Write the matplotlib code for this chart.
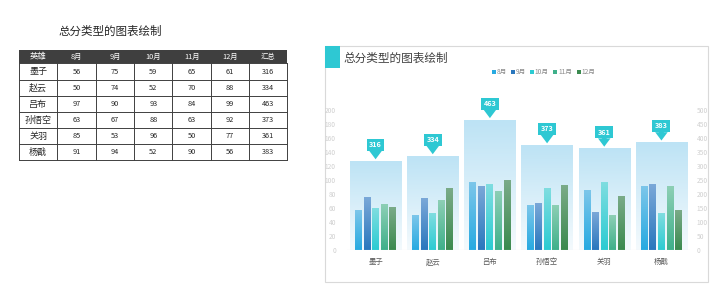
import numpy as np
import matplotlib
matplotlib.use("Agg")
import matplotlib.pyplot as plt
from matplotlib.patches import Rectangle
from matplotlib.colors import to_rgb

plt.rcParams['font.family'] = ['Noto Sans CJK SC', 'DejaVu Sans']

heroes = ["墨子", "赵云", "吕布", "孙悟空", "关羽", "杨戬"]
months = ["8月", "9月", "10月", "11月", "12月"]
aug = [56, 50, 97, 63, 85, 91]
sep = [75, 74, 90, 67, 53, 94]
octo = [59, 52, 93, 88, 96, 52]
nov = [65, 70, 84, 63, 50, 90]
dec = [61, 88, 99, 92, 77, 56]
totals = [316, 334, 463, 373, 361, 383]
header = ["英雄", "8月", "9月", "10月", "11月", "12月", "汇总"]
left_ticks = list(range(0, 201, 20))
right_ticks = list(range(0, 501, 50))
title = "总分类型的图表绘制"

series = [aug, sep, octo, nov, dec]
top_cols = ["#7cc6ea", "#7aa8d8", "#7fdde0", "#8dcfb5", "#7aab88"]
bot_cols = ["#27aae1", "#2a77bd", "#2ccbd2", "#3fb08a", "#3b8a4f"]
teal = "#2ec8d3"

W, H = 720, 286
fig = plt.figure(figsize=(W / 100, H / 100), dpi=100)
fig.patch.set_facecolor("white")

def fx(px):
    return px / W

def fy(py):
    return 1 - py / H

# ---------------- Table ----------------
tax = fig.add_axes([0, 0, 1, 1])
tax.set_xlim(0, W)
tax.set_ylim(H, 0)
tax.axis("off")

tax.text(110, 31, title, ha="center", va="center", fontsize=8.3, color="#262626")

col_x = [19, 57.3, 96, 134.3, 172.3, 211, 249, 287.3]
row_y = [50, 63.3, 80, 96, 112.3, 128.3, 144.3, 160.3]
tax.add_patch(Rectangle((col_x[0], row_y[0]), col_x[-1] - col_x[0], row_y[1] - row_y[0],
                        facecolor="#3f3f3f", edgecolor="none"))
for j, h in enumerate(header):
    cx = (col_x[j] + col_x[j + 1]) / 2
    tax.text(cx, (row_y[0] + row_y[1]) / 2, h, ha="center", va="center",
             fontsize=5.3 if j else 6.0, color="white")
table_rows = []
for i in range(len(heroes)):
    table_rows.append([heroes[i]] + [s[i] for s in series] + [totals[i]])
for i, r in enumerate(table_rows):
    cy = (row_y[i + 1] + row_y[i + 2]) / 2
    for j, v in enumerate(r):
        cx = (col_x[j] + col_x[j + 1]) / 2
        tax.text(cx, cy, str(v), ha="center", va="center",
                 fontsize=6.5 if j == 0 else 5.3, color="#262626")
for y in row_y[1:]:
    tax.plot([col_x[0], col_x[-1]], [y, y], color="#404040", lw=0.7)
for x in col_x:
    tax.plot([x, x], [row_y[1], row_y[-1]], color="#404040", lw=0.7)

# ---------------- Chart panel ----------------
tax.add_patch(Rectangle((325, 45.5), 383, 236.5, facecolor="white", edgecolor="#d9d9d9", lw=0.8))
tax.add_patch(Rectangle((325, 45.5), 15, 22.5, facecolor=teal, edgecolor="none"))
tax.text(343, 58, title, ha="left", va="center", fontsize=8.4, color="#404040")

# legend
lx = 491.5
for k, m in enumerate(months):
    tax.add_patch(Rectangle((lx, 69.5), 4, 4, facecolor=bot_cols[k], edgecolor="none"))
    tax.text(lx + 5, 71.5, m, ha="left", va="center", fontsize=4.8, color="#8c8c8c")
    lx += 10 + 4.5 * len(m)

# axes
rect = [fx(347), fy(250), fx(690) - fx(347), fy(110) - fy(250)]
ax_t = fig.add_axes(rect)
ax_m = fig.add_axes(rect)
ax_t.set_zorder(1)
ax_m.set_zorder(2)
ax_m.patch.set_visible(False)
ax_t.patch.set_visible(False)

x = np.arange(len(heroes))

def grad_fill(ax, patches, c_top, c_bot, z):
    ct = np.array(to_rgb(c_top))
    cb = np.array(to_rgb(c_bot))
    t = np.linspace(0, 1, 64)[:, None]
    img = (ct * (1 - t) + cb * t)[:, None, :]
    for p in patches:
        x0, y0 = p.get_x(), p.get_y()
        w, h = p.get_width(), p.get_height()
        ax.imshow(img, extent=[x0, x0 + w, y0, y0 + h], origin="upper",
                  aspect="auto", zorder=z, interpolation="bilinear")

bg = ax_t.bar(x, totals, width=0.9, color="none", edgecolor="none")
grad_fill(ax_t, bg.patches, "#bde3f5", "#f4fafd", 1)

step, bw = 0.15, 0.12
for k, s in enumerate(series):
    bars = ax_m.bar(x + (k - 2) * step, s, width=bw, color="none", edgecolor="none")
    grad_fill(ax_m, bars.patches, top_cols[k], bot_cols[k], 3)

ax_t.set_xlim(-0.5, len(heroes) - 0.5)
ax_m.set_xlim(-0.5, len(heroes) - 0.5)
ax_t.set_ylim(0, 500)
ax_m.set_ylim(0, 200)

# callouts
for i, tot in enumerate(totals):
    tip = tot + 8
    ax_t.annotate("", xy=(i, tip), xytext=(i, tip + 38),
                  arrowprops=dict(arrowstyle="simple,head_width=0.9,head_length=0.6,tail_width=0.35",
                                  color=teal, lw=0, shrinkA=0, shrinkB=0),
                  zorder=5, annotation_clip=False)
    ax_t.text(i, tip + 52, str(tot), ha="center", va="center", fontsize=5.2, color="white",
              fontweight="bold", zorder=6, clip_on=False,
              bbox=dict(boxstyle="square,pad=0.35", fc=teal, ec="none"))

for a in (ax_t, ax_m):
    for sp in a.spines.values():
        sp.set_visible(False)
ax_m.axhline(0, color="#e6e6e6", lw=0.8, zorder=4)
ax_m.set_yticks(left_ticks)
ax_m.tick_params(axis="y", length=0, labelsize=4.8, labelcolor="#d0d0d0", pad=8)
ax_t.yaxis.tick_right()
ax_t.set_yticks(right_ticks)
ax_t.tick_params(axis="y", length=0, labelsize=4.8, labelcolor="#d0d0d0", pad=5)
ax_t.set_xticks([])
ax_m.set_xticks(x)
ax_m.set_xticklabels(heroes)
ax_m.tick_params(axis="x", length=0, labelsize=5.3, labelcolor="#595959", pad=6)

fig.savefig("out.png", dpi=100, facecolor="white")
